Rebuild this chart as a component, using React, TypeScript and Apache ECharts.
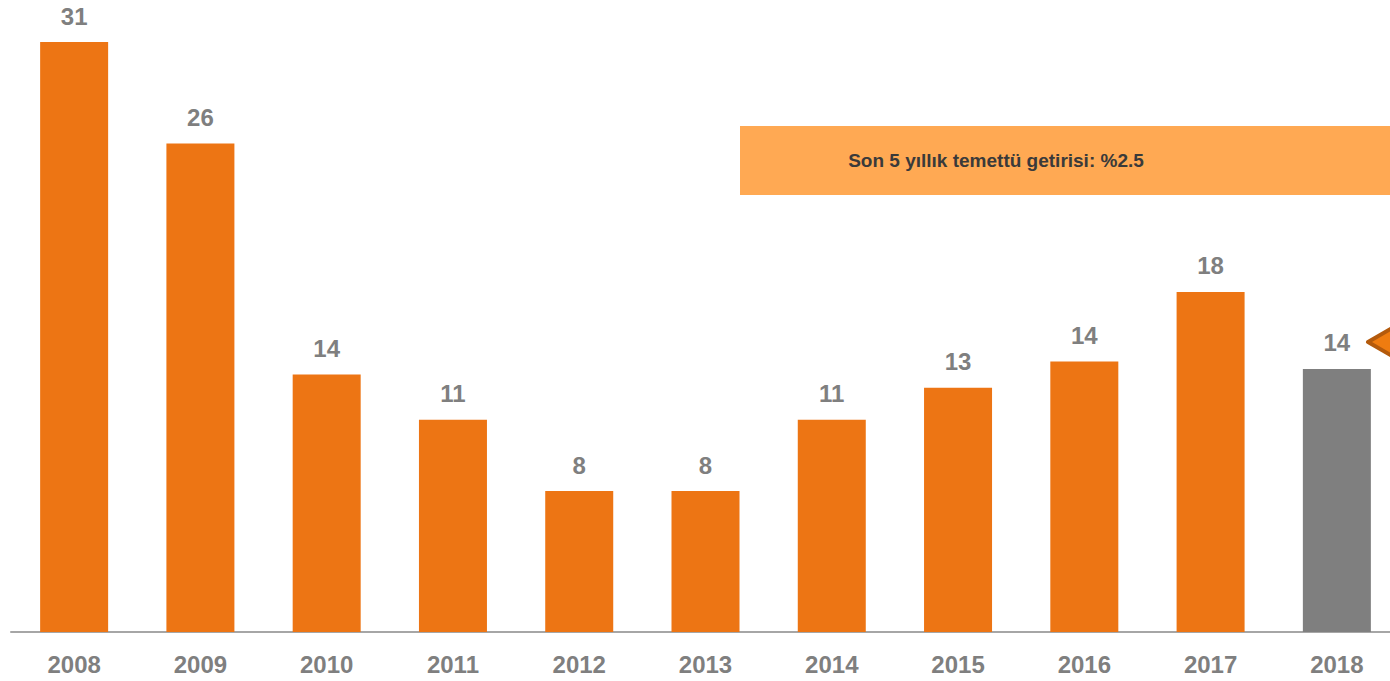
import React, { useEffect, useRef } from "react";
import * as echarts from "echarts";

const years = ["2008", "2009", "2010", "2011", "2012", "2013", "2014", "2015", "2016", "2017", "2018"];
const values = [31.4, 26.0, 13.7, 11.3, 7.5, 7.5, 11.3, 13.0, 14.4, 18.1, 14.0];
const barColors = ["#ED7514", "#ED7514", "#ED7514", "#ED7514", "#ED7514", "#ED7514", "#ED7514", "#ED7514", "#ED7514", "#ED7514", "#7F7F7F"];
const noteText = "Son 5 yıllık temettü getirisi: %2.5";

export default function App() {
  const ref = useRef<HTMLDivElement>(null);
  useEffect(() => {
    const chart = echarts.init(ref.current!, null, { renderer: "svg" });
    chart.setOption({
      animation: false,
      grid: { left: 11, right: 0, top: 12, bottom: 49, containLabel: false, outerBoundsMode: "none" },
      xAxis: {
        type: "category",
        data: years,
        axisLine: { lineStyle: { color: "#A6A6A6", width: 2 } },
        axisTick: { show: false },
        axisLabel: {
          color: "#7F7F7F",
          fontSize: 24,
          fontWeight: "bold",
          fontFamily: "Liberation Sans, Arial, sans-serif",
          margin: 20,
        },
      },
      yAxis: { type: "value", min: 0, max: 33, show: false, splitLine: { show: false } },
      series: [
        {
          type: "bar",
          barWidth: 68,
          data: values.map((v, i) => ({ value: v, itemStyle: { color: barColors[i] } })),
          label: {
            show: true,
            position: "top",
            distance: 14,
            color: "#7F7F7F",
            fontSize: 24,
            fontWeight: "bold",
            fontFamily: "Liberation Sans, Arial, sans-serif",
            formatter: (p: any) => String(Math.round(p.value)),
          },
        },
      ],
      graphic: [
        {
          type: "rect",
          shape: { x: 740, y: 126, width: 660, height: 69 },
          style: { fill: "#FFA953" },
        },
        {
          type: "text",
          x: 996,
          y: 160,
          style: {
            text: noteText,
            fill: "#3A3A3A",
            font: "bold 19px 'Liberation Sans', Arial, sans-serif",
            textAlign: "center",
            textVerticalAlign: "middle",
          },
        },
        {
          type: "polygon",
          shape: { points: [[1368, 342], [1394, 327], [1394, 357]] },
          style: { fill: "#EF7C10", stroke: "#B45A0C", lineWidth: 4, lineJoin: "round" },
        },
      ],
    });
    return () => chart.dispose();
  }, []);
  return (
    <div style={{ position: "fixed", left: 0, top: 0, width: 1390, height: 681, overflow: "hidden", background: "#fff" }}>
      <div ref={ref} style={{ width: 1400, height: 681 }} />
    </div>
  );
}
